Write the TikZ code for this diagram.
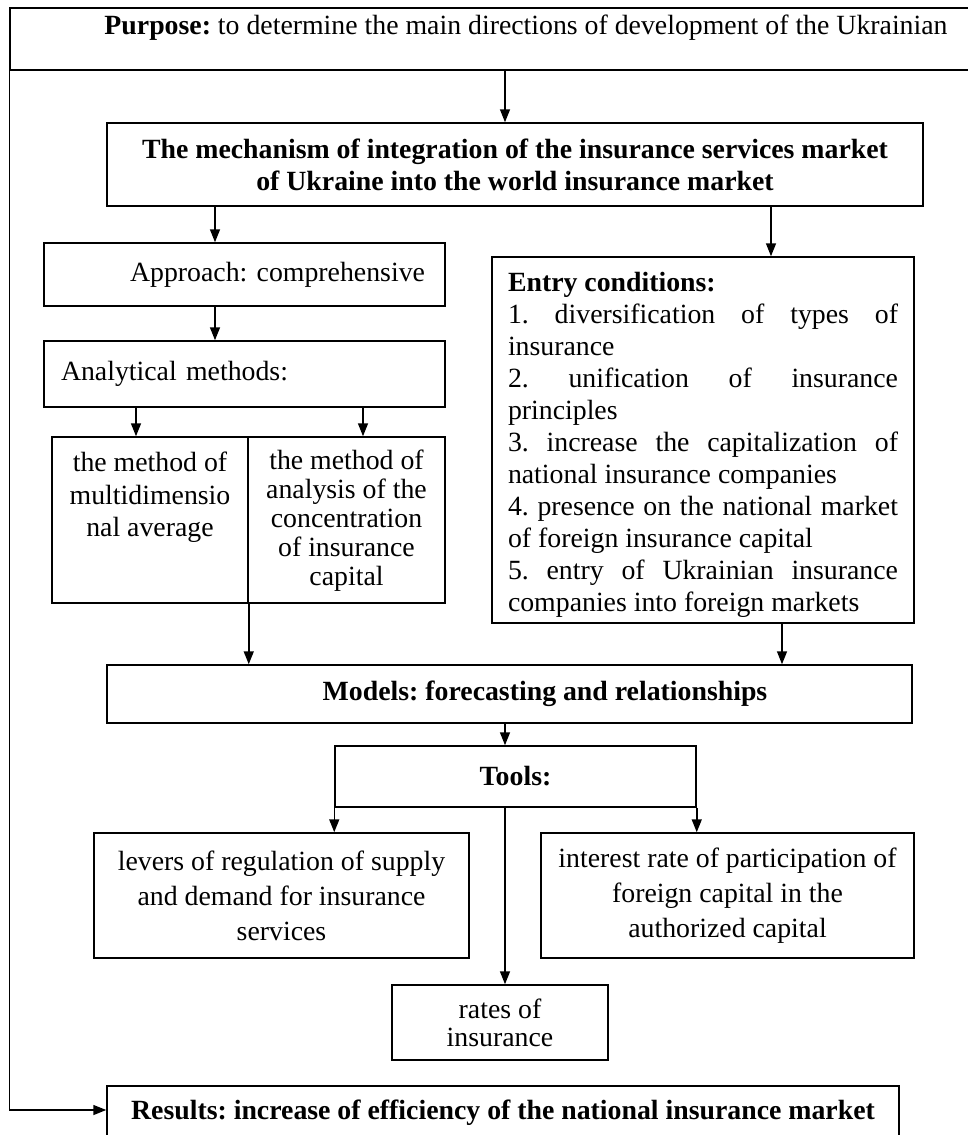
\documentclass[tikz,border=0pt]{standalone}
\usepackage{fontspec}
\setmainfont{Liberation Serif}
\usetikzlibrary{arrows.meta}
\frenchspacing
\tikzstyle{edge}=[-{Triangle[length=13pt,width=10pt]}, line width=1.5pt]
\tikzstyle{link}=[line width=1.5pt]
\tikzstyle{block}=[rectangle, draw, line width=1.5pt,
                   inner sep=0pt, align=center,
                   font=\fontsize{27.8}{32}\selectfont]
\tikzstyle{bblock}=[block, font=\bfseries\fontsize{27.8}{32}\selectfont]
% text that starts at the top of a box of given size
\newcommand{\toptext}[4]{\parbox[c][#2][t]{#1}{\vspace*{#3}#4}}
\newcommand{\jline}[1]{\makebox[\linewidth][s]{#1}}

\begin{document}
\begin{tikzpicture}[x=1pt,y=-1pt]
    \useasboundingbox (0,0) rectangle (967,1135);

    \node (purpose) at (526,39) [block, minimum width=1032pt, minimum height=62pt,
                                 text height=20pt, text depth=30pt]
      {\textbf{Purpose:} to determine the main directions of development of the Ukrainian};
    \node (mech) at (515,164.5) [bblock, minimum width=816pt, minimum height=83pt]
      {The mechanism of integration of the insurance services market\\
       of Ukraine into the world insurance market};

    \node (approach) at (244.5,274.5) [block, text width=361pt, align=right,
                                       inner xsep=20pt, minimum height=63pt]
      {Approach: comprehensive};
    \node (analytical) at (244.5,374) [block, text width=367pt, align=left,
                                       inner xsep=17pt, minimum height=66pt]
      {Analytical methods:};
    \node (methA) at (150,520) [block]
      {\toptext{196pt}{166pt}{15pt}{\centering\fontsize{27.8}{32.5}\selectfont
       the method of\\multidimensio\\nal average}};
    \node (methB) at (346.5,520) [block]
      {\toptext{197pt}{166pt}{13pt}{\centering\fontsize{27.8}{29}\selectfont
       the method of\\analysis of the\\concentration\\of insurance\\capital}};

    \node (entry) at (703,440) [block, inner xsep=16pt]
      {\toptext{390pt}{366pt}{15pt}{\fontsize{27.8}{32}\selectfont
       \textbf{Entry conditions:}\\
       \jline{1. diversification of types of}\\
       insurance\\
       \jline{2. unification of insurance}\\
       principles\\
       \jline{3. increase the capitalization of}\\
       national insurance companies\\
       \jline{4. presence on the national market}\\
       of foreign insurance capital\\
       \jline{5. entry of Ukrainian insurance}\\
       companies into foreign markets}};

    \node (models) at (509.5,694) [bblock, minimum width=805pt, minimum height=58pt]
      {\hspace*{71pt}Models: forecasting and relationships};
    \node (tools) at (515.5,776.5) [bblock, minimum width=361pt, minimum height=61pt]
      {Tools:};

    \node (levers) at (281.5,895.5) [block, minimum width=375pt, minimum height=125pt,
                                     font=\fontsize{27.8}{35}\selectfont]
      {levers of regulation of supply\\and demand for insurance\\services};
    \node (interest) at (727.5,895.5) [block, minimum width=373pt, minimum height=125pt,
                                       font=\fontsize{27.8}{35}\selectfont]
      {interest rate of participation of\\foreign capital in the\\authorized capital};
    \node (rates) at (500,1022.5) [block, minimum width=216pt, minimum height=75pt,
                                   font=\fontsize{27.8}{28}\selectfont]
      {rates of\\insurance};

    \node (results) at (503,1085) [bblock, anchor=north, minimum width=792pt,
                                   inner ysep=14pt, text height=20pt, text depth=40pt]
      {Results: increase of efficiency of the national insurance market};

    \foreach \u/\v/\x in {purpose/mech/505, mech/approach/215, approach/analytical/215,
                          analytical/methA/136, analytical/methB/363, mech/entry/771,
                          entry/models/782, models/tools/505, tools/rates/505}
      \draw [edge] (\u.south -| \x,0) to (\v.north -| \x,0);

    \draw [edge] (methA.south east) to (models.north -| methA.south east);
    \draw [edge] (tools.south west) to (levers.north -| tools.south west);
    \draw [edge] (tools.south east) to (interest.north -| tools.south east);
    \draw [edge] (purpose.south west) |- ([yshift=-25pt]results.north west);
\end{tikzpicture}
\end{document}
